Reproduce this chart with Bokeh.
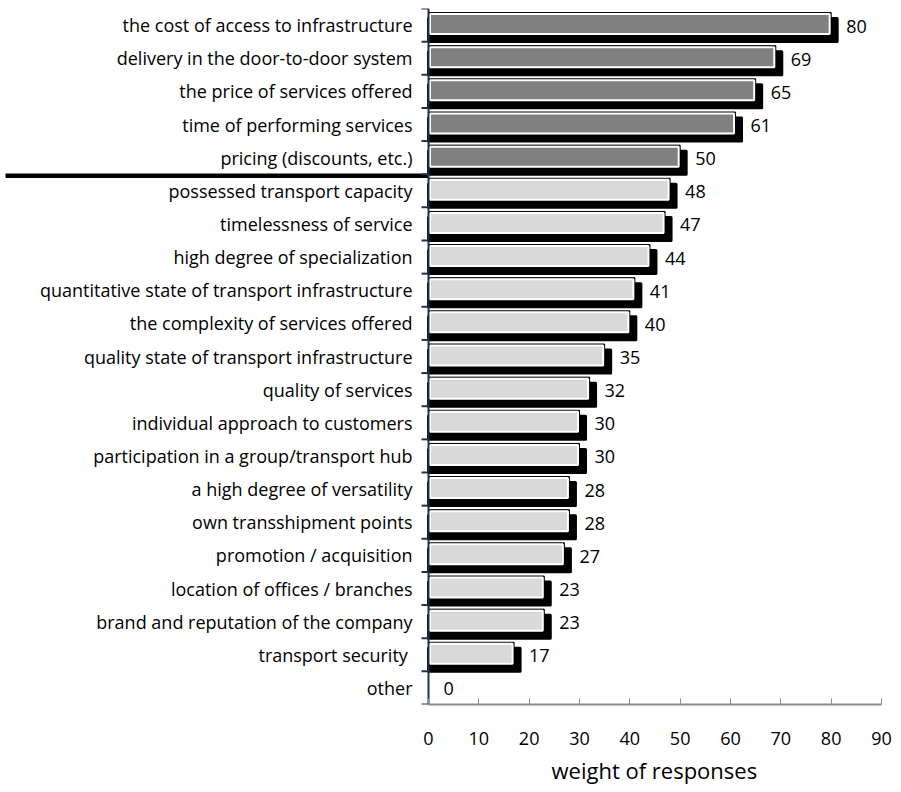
import numpy as np
from bokeh.plotting import figure
from bokeh.models import Range1d, LinearAxis, FixedTicker, ColumnDataSource, Title
from bokeh.core.properties import value
from bokeh.embed import file_html
from bokeh.resources import INLINE

# ---------------- data ----------------
categories = [
    "the cost of access to infrastructure",
    "delivery in the door-to-door system",
    "the price of services offered",
    "time of performing services",
    "pricing (discounts, etc.)",
    "possessed transport capacity",
    "timelessness of service",
    "high degree of specialization",
    "quantitative state of transport infrastructure",
    "the complexity of services offered",
    "quality state of transport infrastructure",
    "quality of services",
    "individual approach to customers",
    "participation in a group/transport hub",
    "a high degree of versatility",
    "own transshipment points",
    "promotion / acquisition",
    "location of offices / branches",
    "brand and reputation of the company",
    "transport security ",
    "other",
]
values = [80, 69, 65, 61, 50, 48, 47, 44, 41, 40, 35, 32, 30, 30, 28, 28, 27, 23, 23, 17, 0]
n_top = 5
x_ticks = [0, 10, 20, 30, 40, 50, 60, 70, 80, 90]
x_title = "weight of responses"

# ---------------- layout ----------------
W, H = 901, 792
left_px, right_px, top_px, bottom_px = 428, 881, 8, 704
xmax = 90
ppu = (right_px - left_px) / xmax
xmin = -left_px / ppu
n = len(categories)
ppy = (bottom_px - top_px) / n

FONT = "Open Sans"
dark_fill = "#808080"
light_fill = "#D9D9D9"
axis_navy = "#1F3250"
axis_gray = "#8C8C8C"

p = figure(width=W, height=H, output_backend="svg", toolbar_location=None,
           x_range=Range1d(xmin, xmax), y_range=Range1d(n - 0.5, -0.5),
           x_axis_type=None, y_axis_type=None,
           min_border_left=0, min_border_right=W - right_px,
           min_border_top=top_px, min_border_bottom=H - bottom_px)
p.outline_line_color = None
p.background_fill_color = "white"
p.border_fill_color = "white"

idx = np.arange(n)
vals = np.array(values, dtype=float)
fills = [dark_fill if i < n_top else light_fill for i in range(n)]

bar_h = 23 / ppy
yc = idx - 1.0 / ppy
sh = 6  # shadow offset px

mask = vals > 0
src = ColumnDataSource(dict(
    y=yc[mask],
    ys=yc[mask] + sh / ppy,
    right=vals[mask],
    rs=vals[mask] + sh / ppu,
    rin=vals[mask] - 1.5 / ppu,
    fill=[f for f, m in zip(fills, mask) if m],
))

# shadow
p.hbar(y="ys", left=0, right="rs", height=bar_h, source=src,
       fill_color="black", line_color="black", line_width=3, line_join="round")
# outer outline
p.hbar(y="y", left=0, right="right", height=bar_h, source=src,
       fill_color="black", line_color="black", line_width=1)
# inner bar with white border
p.hbar(y="y", left=1.5 / ppu, right="rin", height=bar_h - 3 / ppy, source=src,
       fill_color="fill", line_color="white", line_width=2)

# value labels
lab_src = ColumnDataSource(dict(x=vals + 15 / ppu, y=idx + 1.0 / ppy,
                                t=[str(v) for v in values]))
p.text(x="x", y="y", text="t", source=lab_src, text_font=value(FONT),
       text_font_size="18px", text_align="left", text_baseline="middle",
       text_color="black")

# category labels
cat_src = ColumnDataSource(dict(x=np.full(n, -16 / ppu), y=idx, t=categories))
p.text(x="x", y="y", text="t", source=cat_src, text_font=value(FONT),
       text_font_size="18px", text_align="right", text_baseline="middle",
       text_color="black")

# separator line
p.segment(x0=[xmin + 5 / ppu], x1=[0], y0=[n_top - 0.5 + 1.5 / ppy], y1=[n_top - 0.5 + 1.5 / ppy],
          line_color="black", line_width=4.5)

# y axis line and ticks
p.segment(x0=[0], x1=[0], y0=[-0.5], y1=[n - 0.5], line_color=axis_navy, line_width=2)
bounds = idx.tolist() + [n]
p.segment(x0=[-7 / ppu] * (n + 1), x1=[0] * (n + 1),
          y0=[b - 0.5 for b in bounds], y1=[b - 0.5 for b in bounds],
          line_color=axis_navy, line_width=2)

# x axis
xa = LinearAxis(bounds=(0, xmax), ticker=FixedTicker(ticks=x_ticks))
xa.axis_line_color = axis_gray
xa.axis_line_width = 2
xa.major_tick_line_color = axis_gray
xa.major_tick_in = 6
xa.major_tick_out = 0
xa.minor_tick_line_color = None
xa.major_label_standoff = 27
xa.major_label_text_font = FONT
xa.major_label_text_font_size = "18px"
xa.major_label_text_color = "black"
p.add_layout(xa, "below")

# axis title centred under the value axis (left-aligned with pixel offset)
title_w = 207
t = Title(text=x_title, align="left", offset=(left_px + right_px) / 2 - title_w / 2,
          text_font=FONT, text_font_size="22px", text_font_style="normal",
          text_color="black", standoff=11)
p.add_layout(t, "below")

p.grid.visible = False

open("out.html", "w").write(file_html(p, INLINE))
